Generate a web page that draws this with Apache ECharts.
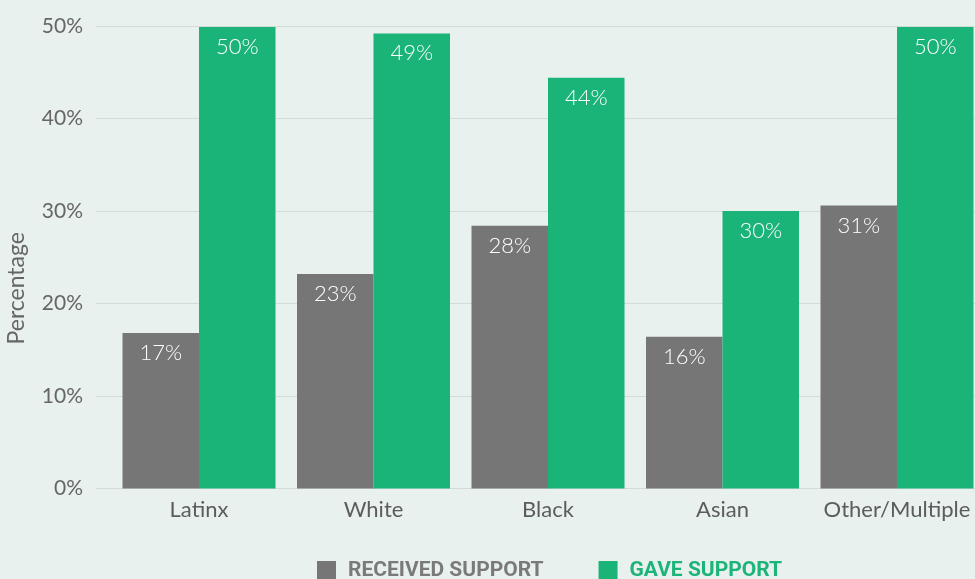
<!DOCTYPE html>
<html>
<head>
<meta charset="utf-8">
<script src="https://cdn.jsdelivr.net/npm/echarts@6/dist/echarts.min.js"></script>
<style>
html,body{margin:0;padding:0;background:#e8f1ee;}
#chart{width:975px;height:579px;}
</style>
</head>
<body>
<div id="chart"></div>
<script>
const categories = ['Latinx', 'White', 'Black', 'Asian', 'Other/Multiple'];
const receivedSupport = [16.8, 23.2, 28.4, 16.4, 30.6];
const gaveSupport = [49.9, 49.2, 44.4, 30.0, 49.9];
const receivedLabels = ['17%', '23%', '28%', '16%', '31%'];
const gaveLabels = ['50%', '49%', '44%', '30%', '50%'];
const yTicks = [0, 10, 20, 30, 40, 50];

const chart = echarts.init(document.getElementById('chart'));
const labelFont = {fontFamily: 'Lato', fontWeight: 300, fontSize: 22};

chart.setOption({
  backgroundColor: '#e8f1ee',
  animation: false,
  legend: {
    left: 317,
    top: 560,
    padding: 0,
    itemWidth: 19,
    itemHeight: 19,
    itemGap: 55,
    icon: 'rect',
    data: [
      {name: 'RECEIVED SUPPORT', textStyle: {color: '#7a7a7a'}},
      {name: 'GAVE SUPPORT', textStyle: {color: '#1db47a'}}
    ],
    textStyle: {fontFamily: 'Liberation Sans Narrow, Roboto', fontWeight: 'bold', fontSize: 21, padding: [4, 0, 0, 7]}
  },
  grid: [
    {left: 96, width: 888, top: 26, bottom: 90.5, outerBoundsMode: 'none'},
    {left: 111.75, width: 872.5, top: 26, bottom: 90.5, outerBoundsMode: 'none'}
  ],
  xAxis: [
    {gridIndex: 0, type: 'value', show: false, min: 0, max: 1},
    {gridIndex: 1, type: 'category', data: categories,
     axisLine: {show: false}, axisTick: {show: false},
     axisLabel: {interval: 0, color: '#5c5c5c', margin: 10, fontFamily: 'Lato', fontSize: 22}}
  ],
  yAxis: [
    {gridIndex: 0, type: 'value', min: yTicks[0], max: yTicks[yTicks.length - 1], interval: 10,
     axisLine: {show: false}, axisTick: {show: false},
     splitLine: {lineStyle: {color: '#d3dbd8', width: 1}},
     axisLabel: {color: '#666', margin: 13, fontFamily: 'Lato', fontSize: 21, formatter: '{value}%'},
     name: 'Percentage', nameLocation: 'middle', nameGap: 68,
     nameTextStyle: {color: '#666', fontFamily: 'Lato', fontSize: 23, padding: [0, 62, 0, 0]}},
    {gridIndex: 1, type: 'value', min: 0, max: 50, show: false, splitLine: {show: false}}
  ],
  series: [
    {name: 'RECEIVED SUPPORT', type: 'bar', xAxisIndex: 1, yAxisIndex: 1,
     data: receivedSupport, barWidth: 76.5, barGap: '0%',
     itemStyle: {color: '#767676'},
     label: Object.assign({show: true, position: 'insideTop', distance: 9, color: '#fff',
       formatter: p => receivedLabels[p.dataIndex]}, labelFont)},
    {name: 'GAVE SUPPORT', type: 'bar', xAxisIndex: 1, yAxisIndex: 1,
     data: gaveSupport, barWidth: 76.5, barGap: '0%',
     itemStyle: {color: '#1bb478'},
     label: Object.assign({show: true, position: 'insideTop', distance: 9, color: '#fff',
       formatter: p => gaveLabels[p.dataIndex]}, labelFont)}
  ]
});
</script>
</body>
</html>
